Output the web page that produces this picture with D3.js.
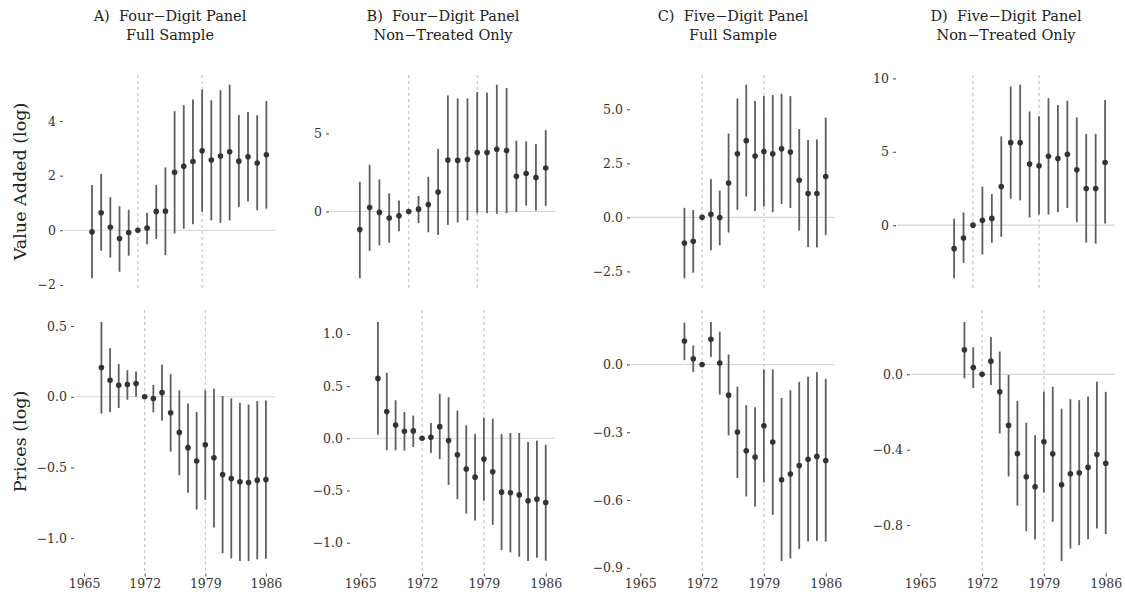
<!DOCTYPE html>
<html lang="en">
<head>
<meta charset="UTF-8" />
<title>Event study estimates</title>
<script src="https://d3js.org/d3.v7.min.js"></script>
<style>
  body { margin: 0; background: #fff; overflow: hidden; }
  text { font-family: "DejaVu Serif", serif; white-space: pre; }
</style>
</head>
<body>
<svg width="1125" height="600"></svg>
<script>
// years covered by each panel family
var yearsFour = d3.range(1967, 1987);
var yearsFive = d3.range(1970, 1987);

// [estimate, lower, upper] per year
var vaFourFull = [
  [-0.06, -1.76, 1.66], [0.64, -0.75, 2.06], [0.11, -1.00, 1.21], [-0.30, -1.52, 0.88],
  [-0.08, -0.93, 0.75], [0, 0, 0], [0.08, -0.51, 0.64], [0.69, -0.32, 1.66],
  [0.70, -0.91, 2.30], [2.12, -0.12, 4.36], [2.34, 0.06, 4.58], [2.52, 0.22, 4.79],
  [2.91, 0.67, 5.15], [2.57, 0.36, 4.76], [2.72, 0.27, 5.13], [2.87, 0.36, 5.33],
  [2.53, 0.85, 4.22], [2.69, 1.05, 4.33], [2.46, 0.73, 4.21], [2.76, 0.79, 4.73]
];
var vaFourNon = [
  [-1.16, -4.28, 1.90], [0.25, -2.53, 3.00], [-0.06, -2.17, 2.05], [-0.42, -2.00, 1.16],
  [-0.27, -1.27, 0.70], [0, 0, 0], [0.15, -0.74, 0.99], [0.44, -1.33, 2.22],
  [1.24, -1.50, 4.01], [3.29, -0.86, 7.43], [3.27, -0.70, 7.24], [3.33, -0.57, 7.24],
  [3.78, -0.11, 7.66], [3.78, -0.11, 7.62], [3.99, -0.15, 8.12], [3.90, -0.11, 7.91],
  [2.26, -0.04, 4.54], [2.43, 0.38, 4.49], [2.17, 0.06, 4.32], [2.78, 0.36, 5.21]
];
var vaFiveFull = [
  [-1.19, -2.82, 0.44], [-1.11, -2.56, 0.34], [0, 0, 0], [0.14, -1.52, 1.78],
  [-0.01, -1.29, 1.24], [1.59, -0.70, 3.88], [2.94, 0.35, 5.50], [3.55, 0.96, 6.14],
  [2.84, 0.30, 5.38], [3.05, 0.50, 5.62], [2.94, 0.24, 5.66], [3.17, 0.62, 5.72],
  [3.02, 0.43, 5.61], [1.72, -0.61, 4.09], [1.10, -1.37, 3.58], [1.10, -1.39, 3.61],
  [1.89, -0.82, 4.62]
];
var vaFiveNon = [
  [-1.60, -3.62, 0.44], [-0.87, -2.57, 0.87], [0, 0, 0], [0.33, -2.00, 2.62],
  [0.46, -1.20, 2.12], [2.63, -0.80, 6.05], [5.62, 1.80, 9.44], [5.62, 1.69, 9.57],
  [4.16, 0.52, 7.75], [4.04, 0.72, 7.42], [4.70, 0.72, 8.65], [4.54, 0.88, 8.18],
  [4.83, 1.17, 8.47], [3.78, 0.20, 7.35], [2.49, -1.19, 6.22], [2.49, -1.26, 6.22],
  [4.27, 0.11, 8.52]
];
var prFourFull = [
  [0.207, -0.119, 0.529], [0.117, -0.110, 0.343], [0.081, -0.079, 0.231], [0.086, -0.021, 0.188],
  [0.093, 0.000, 0.179], [0, 0, 0], [-0.012, -0.110, 0.083], [0.029, -0.169, 0.226],
  [-0.114, -0.388, 0.160], [-0.252, -0.555, 0.045], [-0.360, -0.679, -0.048], [-0.455, -0.798, -0.107],
  [-0.340, -0.729, 0.045], [-0.431, -0.924, 0.057], [-0.550, -1.107, 0.005], [-0.579, -1.143, -0.012],
  [-0.602, -1.162, -0.043], [-0.607, -1.162, -0.055], [-0.590, -1.150, -0.031], [-0.586, -1.145, -0.026]
];
var prFourNon = [
  [0.574, 0.035, 1.115], [0.256, -0.115, 0.628], [0.128, -0.115, 0.365], [0.067, -0.119, 0.253],
  [0.071, -0.083, 0.218], [0, 0, 0], [0.010, -0.141, 0.147], [0.112, -0.199, 0.426],
  [-0.022, -0.446, 0.394], [-0.157, -0.583, 0.266], [-0.295, -0.721, 0.125], [-0.372, -0.788, 0.042],
  [-0.199, -0.599, 0.196], [-0.320, -0.830, 0.189], [-0.516, -1.071, 0.042], [-0.522, -1.093, 0.051],
  [-0.542, -1.135, 0.051], [-0.599, -1.176, -0.035], [-0.583, -1.144, -0.022], [-0.615, -1.173, -0.061]
];
var prFiveFull = [
  [0.104, 0.019, 0.185], [0.025, -0.034, 0.084], [0, 0, 0], [0.111, 0.033, 0.188],
  [0.006, -0.133, 0.145], [-0.136, -0.314, 0.044], [-0.299, -0.503, -0.098], [-0.382, -0.584, -0.180],
  [-0.410, -0.629, -0.189], [-0.271, -0.522, -0.022], [-0.343, -0.666, -0.022], [-0.510, -0.870, -0.148],
  [-0.485, -0.858, -0.114], [-0.447, -0.817, -0.077], [-0.420, -0.784, -0.055], [-0.407, -0.781, -0.034],
  [-0.425, -0.784, -0.064]
];
var prFiveNon = [
  [0.130, -0.021, 0.278], [0.036, -0.073, 0.144], [0, 0, 0], [0.070, -0.057, 0.198],
  [-0.093, -0.314, 0.121], [-0.271, -0.542, -0.004], [-0.421, -0.697, -0.141], [-0.544, -0.832, -0.257],
  [-0.597, -0.877, -0.323], [-0.358, -0.627, -0.091], [-0.422, -0.783, -0.066], [-0.586, -0.991, -0.182],
  [-0.528, -0.925, -0.132], [-0.522, -0.907, -0.137], [-0.494, -0.875, -0.118], [-0.426, -0.818, -0.039],
  [-0.472, -0.848, -0.093]
];

var titles = [
  ["A)  Four\u2212Digit Panel", "Full Sample"],
  ["B)  Four\u2212Digit Panel", "Non\u2212Treated Only"],
  ["C)  Five\u2212Digit Panel", "Full Sample"],
  ["D)  Five\u2212Digit Panel", "Non\u2212Treated Only"]
];
var rowLabels = ["Value Added (log)", "Prices (log)"];
var xTicks = [1965, 1972, 1979, 1986];
var refYears = [1972, 1979];
var topTicks = [[-2, 0, 2, 4], [0, 5], [-2.5, 0, 2.5, 5], [0, 5, 10]];
var bottomTicks = [[-1, -0.5, 0, 0.5], [-1, -0.5, 0, 0.5, 1], [-0.9, -0.6, -0.3, 0], [-0.8, -0.4, 0]];

var svg = d3.select("svg");

// panel boxes (pixels)
var topX = [[64, 276], [330, 556], [631, 835], [897, 1115]];
var bottomX = [[75, 275], [351, 555], [631, 835], [911, 1115]];
var rowY = [[75, 288], [310, 573]];

var panels = [
  { data: vaFourFull, years: yearsFour, row: 0, col: 0, ticks: topTicks[0], fmt: "d" },
  { data: vaFourNon, years: yearsFour, row: 0, col: 1, ticks: topTicks[1], fmt: "d" },
  { data: vaFiveFull, years: yearsFive, row: 0, col: 2, ticks: topTicks[2], fmt: ".1f" },
  { data: vaFiveNon, years: yearsFive, row: 0, col: 3, ticks: topTicks[3], fmt: "d" },
  { data: prFourFull, years: yearsFour, row: 1, col: 0, ticks: bottomTicks[0], fmt: ".1f" },
  { data: prFourNon, years: yearsFour, row: 1, col: 1, ticks: bottomTicks[1], fmt: ".1f" },
  { data: prFiveFull, years: yearsFive, row: 1, col: 2, ticks: bottomTicks[2], fmt: ".1f" },
  { data: prFiveNon, years: yearsFive, row: 1, col: 3, ticks: bottomTicks[3], fmt: ".1f" }
];

function minus(s) { return s.replace("-", "\u2212"); }

panels.forEach(function (p) {
  var xr = p.row === 0 ? topX[p.col] : bottomX[p.col];
  var yr = rowY[p.row];

  // ggplot style 5% expansion
  var xs = d3.scaleLinear().domain([1965 - 1.05, 1986 + 1.05]).range(xr);
  var lo = Math.min(0, d3.min(p.data, function (d) { return d[1]; }));
  var hi = Math.max(0, d3.max(p.data, function (d) { return d[2]; }));
  var pad = (hi - lo) * 0.05;
  var ys = d3.scaleLinear().domain([lo - pad, hi + pad]).range([yr[1], yr[0]]);

  var g = svg.append("g");

  g.append("line")
    .attr("x1", xr[0]).attr("x2", xr[1])
    .attr("y1", ys(0)).attr("y2", ys(0))
    .attr("stroke", "#d6d6d6").attr("stroke-width", 1.1);

  g.selectAll(".ref").data(refYears).enter().append("line")
    .attr("x1", function (d) { return xs(d); })
    .attr("x2", function (d) { return xs(d); })
    .attr("y1", yr[0]).attr("y2", yr[1])
    .attr("stroke", "#b8b8b8").attr("stroke-width", 1)
    .attr("stroke-dasharray", "3,3");

  var rows = p.data.map(function (d, i) { return { year: p.years[i], est: d[0], lo: d[1], hi: d[2] }; });

  g.selectAll(".bar").data(rows).enter().append("line")
    .attr("x1", function (d) { return xs(d.year); })
    .attr("x2", function (d) { return xs(d.year); })
    .attr("y1", function (d) { return ys(d.lo); })
    .attr("y2", function (d) { return ys(d.hi); })
    .attr("stroke", "#5e5e5e").attr("stroke-width", 1.8);

  g.selectAll(".pt").data(rows).enter().append("circle")
    .attr("cx", function (d) { return xs(d.year); })
    .attr("cy", function (d) { return ys(d.est); })
    .attr("r", 2.8)
    .attr("fill", "#333");

  var f = d3.format(p.fmt);
  var ay = g.append("g")
    .attr("transform", "translate(" + (xr[0] - 1) + ",0)")
    .call(d3.axisLeft(ys).tickValues(p.ticks).tickSize(3).tickPadding(4)
      .tickFormat(function (d) { return minus(f(d)); }));
  ay.select(".domain").remove();
  ay.selectAll("line").attr("stroke", "#444");
  ay.selectAll("text").attr("fill", "#333").style("font-size", "12.5px")
    .style("font-family", "DejaVu Serif, serif");

  if (p.row === 1) {
    var ax = g.append("g")
      .attr("transform", "translate(0," + (yr[1] + 0.5) + ")")
      .call(d3.axisBottom(xs).tickValues(xTicks).tickSize(3).tickPadding(3).tickFormat(d3.format("d")));
    ax.select(".domain").remove();
    ax.selectAll("line").attr("stroke", "#444");
    ax.selectAll("text").attr("fill", "#333").style("font-size", "12.5px")
      .style("font-family", "DejaVu Serif, serif");
  }

  if (p.row === 0) {
    var cx = (xr[0] + xr[1]) / 2;
    var t = g.append("text").attr("text-anchor", "middle")
      .attr("fill", "#222").style("font-size", "14.5px");
    t.append("tspan").attr("x", cx).attr("y", 21).text(titles[p.col][0]);
    t.append("tspan").attr("x", cx).attr("y", 40).text(titles[p.col][1]);
  }

  if (p.col === 0) {
    svg.append("text")
      .attr("transform", "translate(26," + ((yr[0] + yr[1]) / 2) + ") rotate(-90)")
      .attr("text-anchor", "middle")
      .attr("fill", "#222").style("font-size", "17.5px")
      .text(rowLabels[p.row]);
  }
});
</script>
</body>
</html>
